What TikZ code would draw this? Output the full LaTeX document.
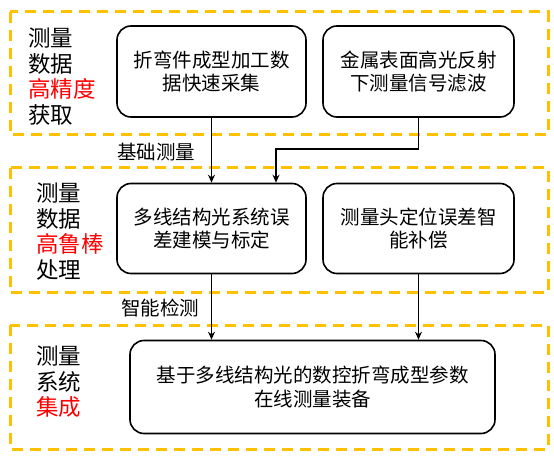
\documentclass[tikz,border=0pt]{standalone}
\usepackage{fontspec}
\setmainfont{Noto Sans CJK SC}
\usetikzlibrary{arrows.meta}
\definecolor{gold}{HTML}{FFC000}
\definecolor{redt}{HTML}{FF0000}
\begin{document}
\begin{tikzpicture}[x=1pt,y=-1pt,
 grp/.style={draw=gold,line width=3pt,dash pattern=on 11pt off 7pt},
 box/.style={draw,line width=1.6pt,rounded corners=14pt,align=center,font=\fontsize{19.5}{23.5}\selectfont,inner sep=0pt},
 side/.style={align=left,anchor=north west,font=\fontsize{22.5}{25.5}\selectfont,inner sep=0pt},
 arr/.style={line width=1.3pt,-{Stealth[length=8pt,width=7pt]}},
 lab/.style={font=\fontsize{19.5}{22}\selectfont,inner sep=0pt}]
\useasboundingbox (0,0) rectangle (554,462);
% groups
\draw[grp] (10,12) rectangle (548,135);
\draw[grp] (10,168) rectangle (548,293);
\draw[grp] (10,325) rectangle (548,449);
% side labels
\node[side] (g1) at (28,28) {测量\\数据\\\textcolor{redt}{高精度}\\获取};
\node[side] (g2) at (36,183) {测量\\数据\\\textcolor{redt}{高鲁棒}\\处理};
\node[side] (g3) at (36,346) {测量\\系统\\\textcolor{redt}{集成}};
% boxes
\node[box,minimum width=189pt,minimum height=91pt] (a1) at (211.5,71.5) {折弯件成型加工数\\据快速采集};
\node[box,minimum width=191pt,minimum height=91pt] (a2) at (418.5,71.5) {金属表面高光反射\\下测量信号滤波};
\node[box,minimum width=189pt,minimum height=90pt] (b1) at (211.5,228.5) {多线结构光系统误\\差建模与标定};
\node[box,minimum width=191pt,minimum height=90pt] (b2) at (418.5,228.5) {测量头定位误差智\\能补偿};
\node[box,minimum width=365pt,minimum height=93pt] (c) at (312.5,387) {基于多线结构光的数控折弯成型参数\\在线测量装备};
% labels
\node[lab] (l1) at (156,152) {基础测量};
\node[lab] (l2) at (160,308) {智能检测};
% connectors
\coordinate (k) at (276,149);
\draw[arr] (a1.south) -- (b1.north);
\draw[arr] (a2.south) |- (k) -- (k |- b1.north);
\draw[arr] (b1.south) -- (b1.south |- c.north);
\draw[arr] (b2.south) -- (b2.south |- c.north);
\end{tikzpicture}
\end{document}
